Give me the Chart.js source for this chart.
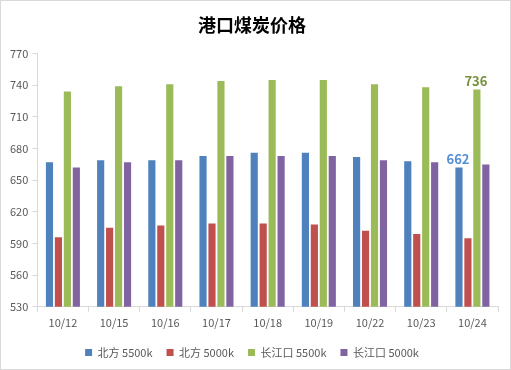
<!DOCTYPE html>
<html>
<head>
<meta charset="utf-8">
<script src="https://cdn.jsdelivr.net/npm/chart.js@4/dist/chart.umd.min.js"></script>
<style>
  html, body { margin: 0; padding: 0; background: #fff; }
  #wrap { width: 511px; height: 370px; }
</style>
</head>
<body>
<div id="wrap"><canvas id="c" width="511" height="370"></canvas></div>
<script>
  // data
  const dates      = ['10/12', '10/15', '10/16', '10/17', '10/18', '10/19', '10/22', '10/23', '10/24'];
  const north5500  = [667, 669, 669, 673, 676, 676, 672, 668, 662];
  const north5000  = [596, 605, 607, 609, 609, 608, 602, 599, 595];
  const river5500  = [734, 739, 741, 744, 745, 745, 741, 738, 736];
  const river5000  = [662, 667, 669, 673, 673, 673, 669, 667, 665];
  const seriesNames = ['北方 5500k', '北方 5000k', '长江口 5500k', '长江口 5000k'];
  const yTicks = [530, 560, 590, 620, 650, 680, 710, 740, 770];
  // which bars carry a value label: [series index, category index]
  const labelled = [[0, 8], [2, 8]];

  const colors = ['#4F81BD', '#C0504D', '#9BBB59', '#8064A2'];
  const labelColors = ['#558ED5', '#C0504D', '#76923C', '#8064A2'];
  const cjk = '"Microsoft YaHei", "Noto Sans CJK SC", sans-serif';

  // frame around the whole picture
  const framePlugin = {
    id: 'frame',
    beforeDraw(chart) {
      const ctx = chart.ctx;
      ctx.save();
      ctx.fillStyle = '#fff';
      ctx.fillRect(0, 0, chart.width, chart.height);
      ctx.strokeStyle = '#d9d9d9';
      ctx.lineWidth = 1;
      ctx.strokeRect(0.5, 0.5, chart.width - 1, chart.height - 1);
      ctx.restore();
    }
  };

  // value labels above selected bars
  const valueLabels = {
    id: 'valueLabels',
    afterDatasetsDraw(chart) {
      const ctx = chart.ctx;
      ctx.save();
      ctx.font = 'bold 13px ' + cjk;
      ctx.textAlign = 'center';
      ctx.textBaseline = 'bottom';
      labelled.forEach(([s, i]) => {
        const bar = chart.getDatasetMeta(s).data[i];
        ctx.fillStyle = labelColors[s];
        ctx.fillText(chart.data.datasets[s].data[i], bar.x - 1, bar.y - 2);
      });
      ctx.restore();
    }
  };

  new Chart(document.getElementById('c'), {
    type: 'bar',
    data: {
      labels: dates,
      datasets: [north5500, north5000, river5500, river5000].map((d, k) => ({
        label: seriesNames[k],
        data: d,
        backgroundColor: colors[k],
        categoryPercentage: 0.7,
        barPercentage: 0.8
      }))
    },
    options: {
      responsive: false,
      animation: false,
      layout: { padding: { left: 6, right: 13, top: 4, bottom: 2 } },
      plugins: {
        title: {
          display: true,
          text: '港口煤炭价格',
          color: '#000',
          font: { family: cjk, size: 18, weight: 'bold' },
          padding: { top: 10, bottom: 18 }
        },
        legend: {
          position: 'bottom',
          labels: {
            boxWidth: 7, boxHeight: 7, padding: 14,
            color: '#595959',
            font: { family: cjk, size: 11 }
          }
        },
        tooltip: { enabled: false }
      },
      scales: {
        x: {
          grid: { offset: true, drawOnChartArea: false, color: '#d9d9d9', tickLength: 5 },
          border: { color: '#d9d9d9' },
          ticks: { color: '#595959', font: { family: cjk, size: 11 }, padding: 4 }
        },
        y: {
          min: yTicks[0],
          max: yTicks[yTicks.length - 1],
          afterBuildTicks(axis) { axis.ticks = yTicks.map(v => ({ value: v })); },
          grid: { drawOnChartArea: false, color: '#d9d9d9', tickLength: 5 },
          border: { color: '#d9d9d9' },
          ticks: { color: '#595959', font: { family: cjk, size: 11 }, padding: 4 }
        }
      }
    },
    plugins: [framePlugin, valueLabels]
  });
</script>
</body>
</html>
